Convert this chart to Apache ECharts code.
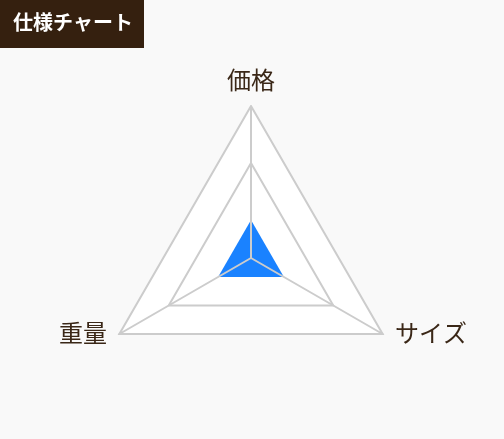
<!DOCTYPE html>
<html><head><meta charset="utf-8">
<script src="https://cdn.jsdelivr.net/npm/echarts@6/dist/echarts.min.js"></script>
<style>html,body{margin:0;padding:0;background:#f9f9f9;}#c{width:504px;height:439px;}</style>
</head><body><div id="c"></div>
<script>
const indicators = ['価格', '重量', 'サイズ'];
const maxValue = 8;
const fullValues = [8, 8, 8];
const midValues = [5, 5, 5];
const specValues = [2, 2, 2];
const title = '仕様チャート';

const chart = echarts.init(document.getElementById('c'));
chart.setOption({
  backgroundColor: '#f9f9f9',
  animation: false,
  graphic: [{
    type: 'rect', left: 0, top: 0, shape: {width: 144, height: 48},
    style: {fill: '#35200f'}, z: 10
  }, {
    type: 'text', left: 13, top: 12,
    style: {text: title, fill: '#ffffff', font: 'bold 20px "Noto Sans CJK JP"'}, z: 11
  }],
  radar: {
    center: [251, 258],
    radius: 152,
    startAngle: 90,
    shape: 'polygon',
    splitNumber: 1,
    z: 3,
    indicator: indicators.map(n => ({name: n, max: maxValue})),
    axisName: {color: '#3a2717', fontSize: 24, fontFamily: '"Noto Sans CJK JP"', lineHeight: 1, padding: [0, 14, 28, 14]},
    nameGap: -2,
    axisLine: {lineStyle: {color: '#cccccc', width: 2}},
    splitLine: {lineStyle: {color: '#cccccc', width: 2}},
    splitArea: {show: false},
    axisTick: {show: false},
    axisLabel: {show: false}
  },
  series: [{
    type: 'radar', z: 1, silent: true, symbol: 'none',
    lineStyle: {width: 0},
    areaStyle: {color: '#ffffff', opacity: 1},
    data: [{value: fullValues}]
  }, {
    type: 'radar', z: 1, silent: true, symbol: 'none',
    lineStyle: {color: '#cccccc', width: 2},
    data: [{value: midValues}]
  }, {
    type: 'radar', z: 1, silent: true, symbol: 'none',
    lineStyle: {width: 0},
    areaStyle: {color: '#1a82ff', opacity: 1},
    data: [{value: specValues}]
  }]
});
</script></body></html>
